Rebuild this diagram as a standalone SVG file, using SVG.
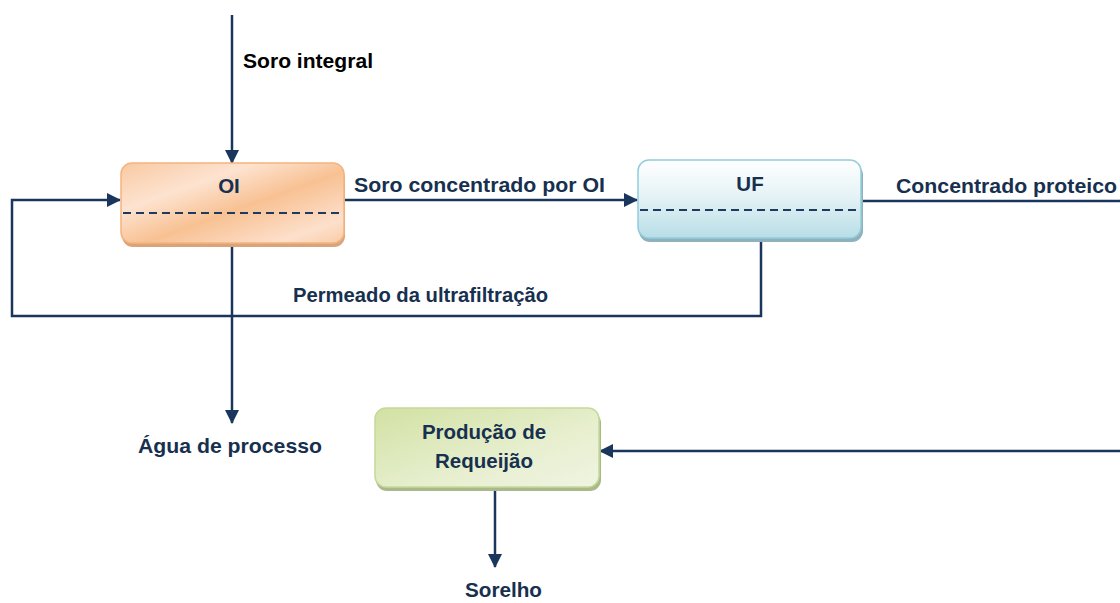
<svg xmlns="http://www.w3.org/2000/svg" width="1120" height="603" viewBox="0 0 1120 603">
  <style>
    .lbl { font-family: "Liberation Sans", Arial, sans-serif; font-weight: bold; font-size: 20.5px; fill: #17304f; }
    .blk { fill: #000000; }
    .ttl { text-anchor: middle; }
    .wire { fill: none; stroke: #1b365d; stroke-width: 2.5; }
    .sep { fill: none; stroke: #1f3a5f; stroke-width: 2; stroke-dasharray: 8 5; }
  </style>
  <defs>
    <marker id="arrow" markerWidth="14" markerHeight="14" refX="13" refY="7" orient="auto" markerUnits="userSpaceOnUse" viewBox="0 0 14 14">
      <path d="M0,0 L14,7 L0,14 z" fill="#1b365d"/>
    </marker>
    <linearGradient id="gOI" x1="0" y1="0" x2="1" y2="1">
      <stop offset="0" stop-color="#f9c9a2"/>
      <stop offset="0.3" stop-color="#fde3d0"/>
      <stop offset="0.55" stop-color="#f8c193"/>
      <stop offset="0.85" stop-color="#fde0cc"/>
      <stop offset="1" stop-color="#f9cba6"/>
    </linearGradient>
    <linearGradient id="gUF" x1="0" y1="0" x2="0" y2="1">
      <stop offset="0" stop-color="#ffffff"/>
      <stop offset="0.45" stop-color="#e6f3f6"/>
      <stop offset="1" stop-color="#b8dee7"/>
    </linearGradient>
    <linearGradient id="gPR" x1="0" y1="0" x2="1" y2="1">
      <stop offset="0" stop-color="#d2e1a3"/>
      <stop offset="0.6" stop-color="#e7efcf"/>
      <stop offset="1" stop-color="#f0f4e2"/>
    </linearGradient>
  </defs>

  <!-- connectors -->
  <g id="connectors">
    <line x1="232" y1="15" x2="232" y2="163" class="wire" stroke="#2a4d85" marker-end="url(#arrow)"/>
    <line x1="345" y1="200" x2="637" y2="200" class="wire" marker-end="url(#arrow)"/>
    <line x1="862" y1="201" x2="1120" y2="201" class="wire"/>
    <polyline points="761,241 761,316 12,316 12,200 120,200" class="wire" marker-end="url(#arrow)"/>
    <line x1="232" y1="247" x2="232" y2="423" class="wire" marker-end="url(#arrow)"/>
    <line x1="1120" y1="451" x2="600" y2="451" class="wire" marker-end="url(#arrow)"/>
    <line x1="495" y1="490" x2="495" y2="567" class="wire" marker-end="url(#arrow)"/>
  </g>

  <!-- labels on connectors -->
  <g id="labels">
    <text x="243" y="68" class="lbl blk" textLength="130" lengthAdjust="spacingAndGlyphs">Soro integral</text>
    <text x="354" y="192" class="lbl" textLength="251" lengthAdjust="spacingAndGlyphs">Soro concentrado por OI</text>
    <text x="896" y="193" class="lbl" textLength="221" lengthAdjust="spacingAndGlyphs">Concentrado proteico</text>
    <text x="293" y="302" class="lbl" textLength="255" lengthAdjust="spacingAndGlyphs">Permeado da ultrafiltração</text>
    <text x="138" y="453" class="lbl" textLength="184" lengthAdjust="spacingAndGlyphs">Água de processo</text>
    <text x="465" y="597" class="lbl" textLength="77" lengthAdjust="spacingAndGlyphs">Sorelho</text>
  </g>

  <!-- reverse osmosis unit -->
  <g id="node-oi">
    <rect x="122" y="167" width="223" height="80" rx="11" fill="#d9a47c"/>
    <rect x="121" y="163" width="223" height="80" rx="11" fill="url(#gOI)" stroke="#f5b47c" stroke-width="1.5"/>
    <line x1="123" y1="213" x2="342" y2="213" class="sep"/>
    <text x="229" y="193" class="lbl ttl">OI</text>
  </g>

  <!-- ultrafiltration unit -->
  <g id="node-uf">
    <rect x="639" y="164" width="224" height="78" rx="11" fill="#8fb1bd"/>
    <rect x="638" y="160" width="223" height="78" rx="11" fill="url(#gUF)" stroke="#93cddb" stroke-width="1.5"/>
    <line x1="640" y1="210" x2="859" y2="210" class="sep"/>
    <text x="750" y="191" class="lbl ttl">UF</text>
  </g>

  <!-- requeijão production -->
  <g id="node-requeijao">
    <rect x="376" y="412" width="225" height="79" rx="11" fill="#a9b98a"/>
    <rect x="375" y="408" width="224" height="79" rx="11" fill="url(#gPR)" stroke="#c6d99a" stroke-width="1.5"/>
    <text x="484" y="439" class="lbl ttl">Produção de</text>
    <text x="484" y="468" class="lbl ttl">Requeijão</text>
  </g>
</svg>
